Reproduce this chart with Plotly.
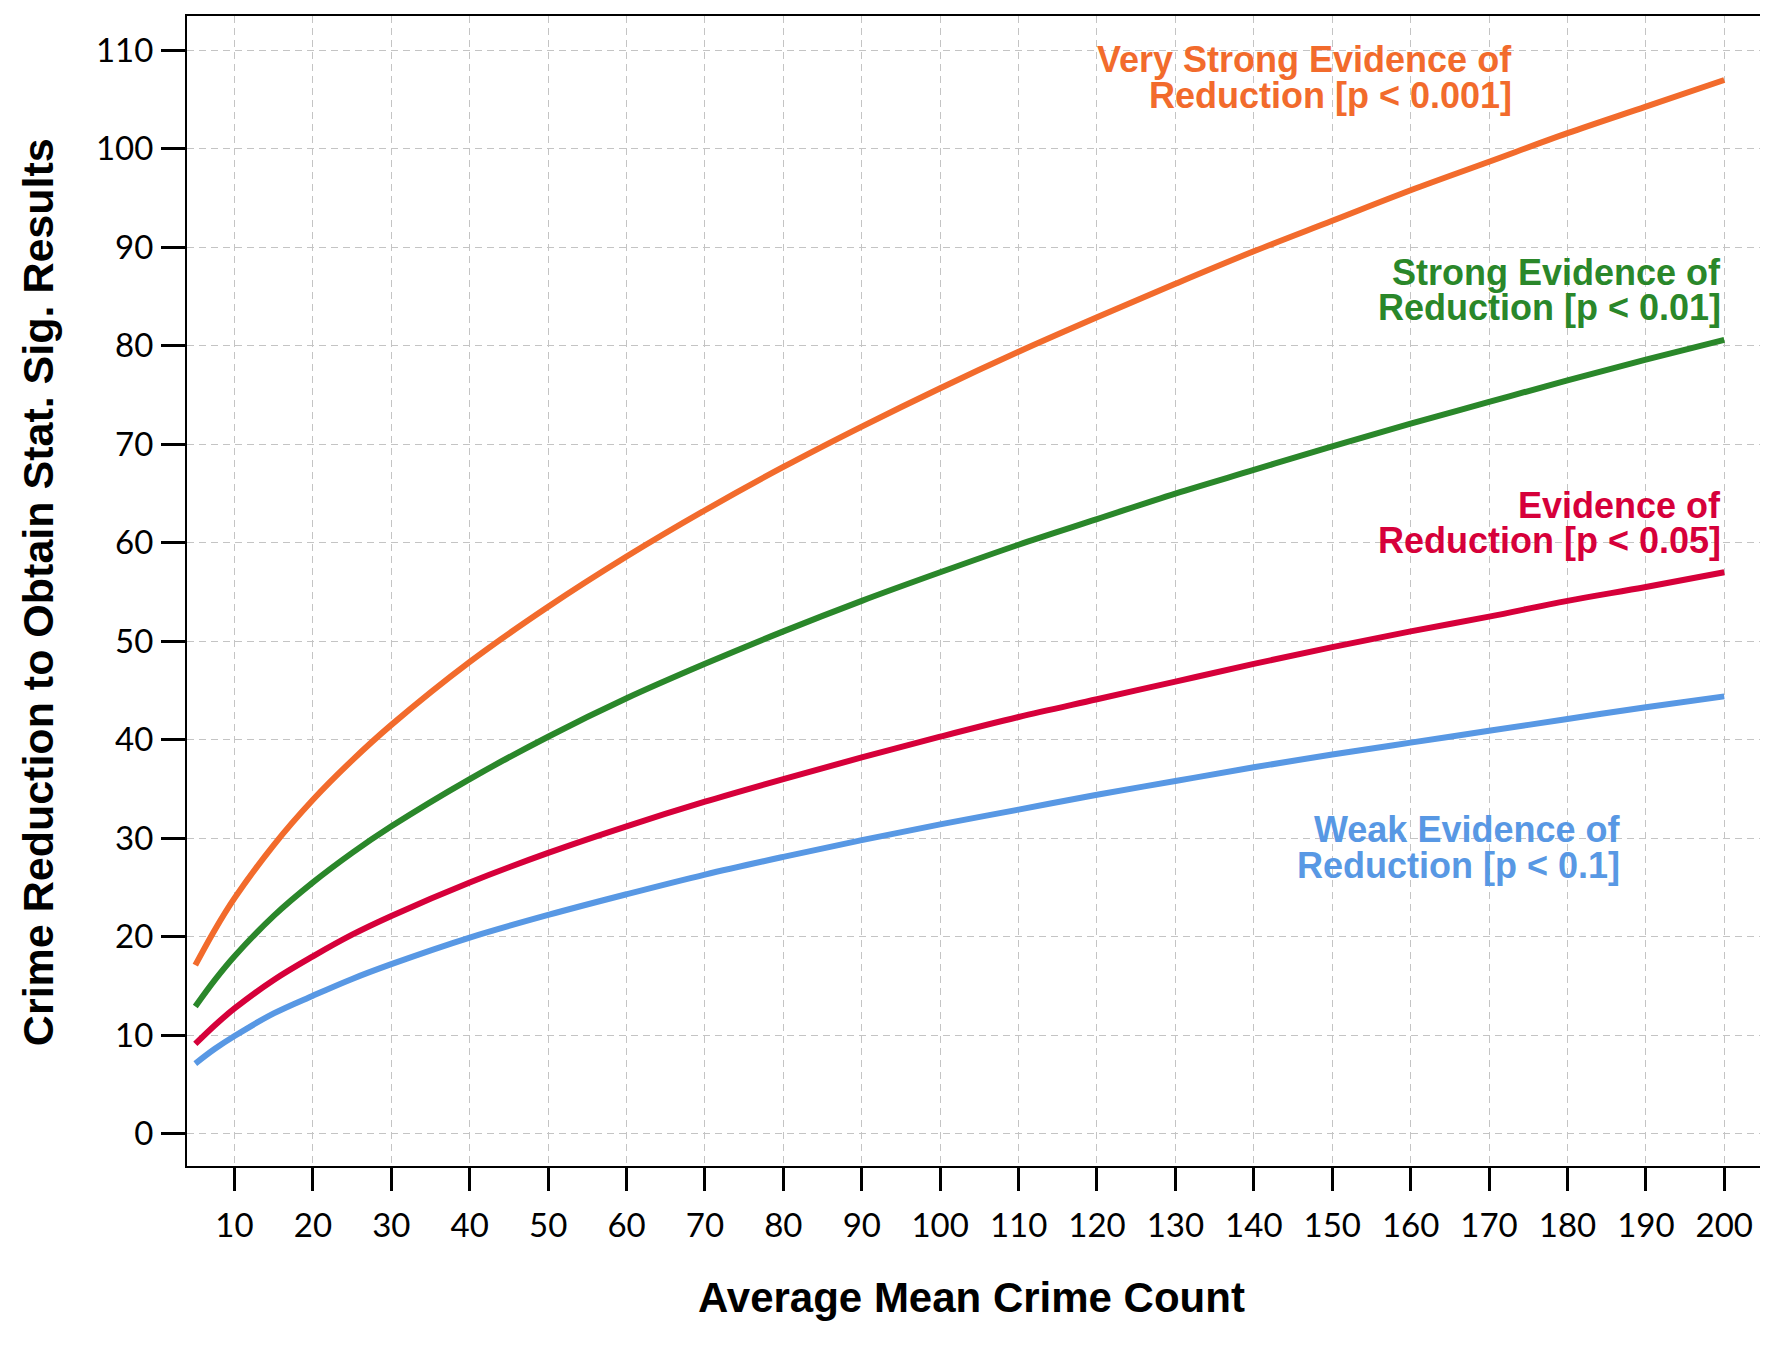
import plotly.graph_objects as go

# ---- data ----
mean_count = [5, 7.5, 10, 15, 20, 25, 30, 40, 50, 60, 70, 80, 90, 100, 110, 120,
              130, 140, 150, 160, 170, 180, 190, 200]
very_strong = [17.1, 20.7, 23.9, 29.3, 33.9, 37.9, 41.5, 47.9, 53.5, 58.6, 63.3, 67.7,
               71.8, 75.7, 79.4, 82.9, 86.3, 89.6, 92.7, 95.8, 98.7, 101.6, 104.3, 107.0]
strong = [12.9, 15.6, 18.0, 22.1, 25.5, 28.5, 31.2, 36.0, 40.3, 44.2, 47.7, 51.0,
          54.1, 57.0, 59.8, 62.4, 65.0, 67.4, 69.8, 72.1, 74.3, 76.5, 78.6, 80.6]
evidence = [9.1, 11.0, 12.7, 15.6, 18.0, 20.2, 22.1, 25.5, 28.5, 31.2, 33.7, 36.0,
            38.2, 40.3, 42.3, 44.1, 45.9, 47.7, 49.4, 51.0, 52.5, 54.1, 55.5, 57.0]
weak = [7.1, 8.6, 9.9, 12.2, 14.0, 15.7, 17.2, 19.9, 22.2, 24.3, 26.3, 28.1,
        29.8, 31.4, 32.9, 34.4, 35.8, 37.2, 38.5, 39.7, 40.9, 42.1, 43.3, 44.4]

x_ticks = list(range(10, 201, 10))
y_ticks = list(range(0, 111, 10))

series_names = ["Very Strong Evidence of Reduction [p < 0.001]",
                "Strong Evidence of Reduction [p < 0.01]",
                "Evidence of Reduction [p < 0.05]",
                "Weak Evidence of Reduction [p < 0.1]"]
colors = ["#F26B2C", "#2A872A", "#D6003A", "#5898E4"]

# label lines: (line1, line2, x right, y line1, y line2)
labels = [
    ("Very Strong Evidence of", "Reduction [p < 0.001]", 173.2, 109.1, 105.4),
    ("Strong Evidence of", "Reduction [p < 0.01]", 199.8, 87.4, 83.9),
    ("Evidence of", "Reduction [p < 0.05]", 199.8, 63.8, 60.2),
    ("Weak Evidence of", "Reduction [p < 0.1]", 187.0, 30.9, 27.2),
]

fig = go.Figure()
for name, ys, c in zip(series_names, [very_strong, strong, evidence, weak], colors):
    fig.add_trace(go.Scatter(x=mean_count, y=ys, mode="lines", name=name,
                             line=dict(color=c, width=6, shape="spline"),
                             showlegend=False))

ann_font = "Liberation Sans, Arial, sans-serif"
for (l1, l2, xr, y1, y2), c in zip(labels, colors):
    for txt, yy in ((l1, y1), (l2, y2)):
        fig.add_annotation(x=xr, y=yy, xref="x", yref="y", text=txt, showarrow=False,
                           xanchor="right", yanchor="middle",
                           font=dict(family=ann_font, size=36, color=c, weight="bold"))

# axis titles
fig.add_annotation(x=103.97, y=0, xref="x", yref="paper", yanchor="middle", xanchor="center",
                   yshift=-131, showarrow=False, text="Average Mean Crime Count",
                   font=dict(family=ann_font, size=42, color="#000", weight="bold"))
fig.add_annotation(x=0, y=0.499, xref="paper", yref="paper", xanchor="center", yanchor="middle",
                   xshift=-149, showarrow=False, textangle=-90,
                   text="Crime Reduction to Obtain Stat. Sig. Results",
                   font=dict(family=ann_font, size=43, color="#000", weight="bold"))

tick_font = dict(family="Lato, Open Sans, sans-serif", size=33, color="#000")
fig.update_xaxes(range=[3.94, 206.6], tickvals=x_ticks, ticktext=[str(v) for v in x_ticks],
                 showgrid=True, gridcolor="#c4c4c4", gridwidth=1, griddash="7px,5px",
                 showline=True, linecolor="#000", linewidth=2, mirror=True,
                 ticks="outside", ticklen=23, tickwidth=3, tickcolor="#000",
                 tickfont=tick_font, ticklabelstandoff=6, zeroline=False)
fig.update_yaxes(range=[-3.3, 113.5], tickvals=y_ticks, ticktext=[str(v) for v in y_ticks],
                 showgrid=True, gridcolor="#c4c4c4", gridwidth=1, griddash="7px,5px",
                 showline=True, linecolor="#000", linewidth=2, mirror=False,
                 ticks="outside", ticklen=24, tickwidth=3, tickcolor="#000",
                 tickfont=tick_font, ticklabelstandoff=1, zeroline=False)

# the page body adds an 8px offset, so margins are reduced by 8px on left/top
fig.update_layout(width=1768, height=1354, plot_bgcolor="white", paper_bgcolor="white",
                  margin=dict(l=179, r=0, t=8, b=196, autoexpand=False), showlegend=False)

fig.write_html("out.html")
